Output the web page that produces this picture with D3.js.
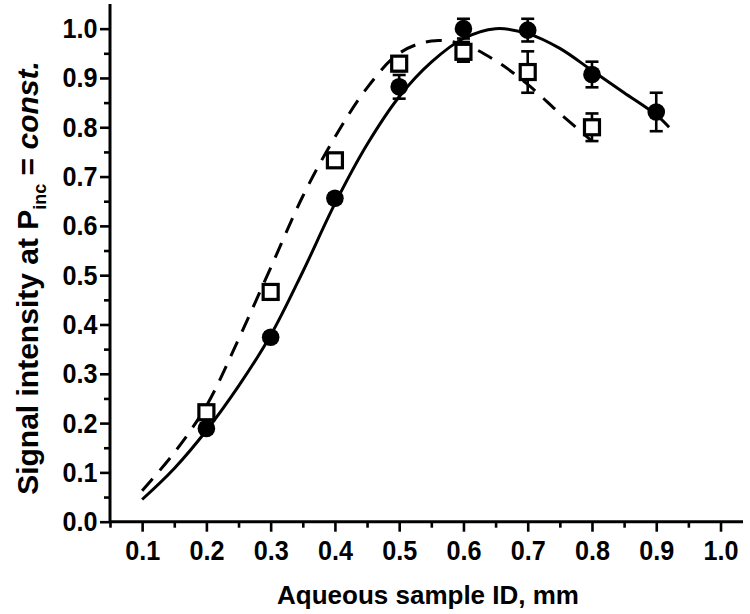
<!DOCTYPE html>
<html><head><meta charset="utf-8">
<script src="https://cdn.jsdelivr.net/npm/d3@7"></script>
<style>body{margin:0;background:#fff}svg{display:block}</style>
</head><body>
<svg id="c" width="750" height="614"></svg>
<script>
const xPts = [0.2,0.3,0.4,0.5,0.6,0.7,0.8,0.9];
const circleVals = [0.189,0.374,0.656,0.882,1.0,0.997,0.907,0.831];
const circleErr  = [0.01,0.01,0.01,0.024,0.02,0.023,0.026,0.039];
const squareX = [0.2,0.3,0.4,0.5,0.6,0.7,0.8];
const squareVals = [0.222,0.466,0.733,0.929,0.953,0.912,0.80];
const squareErr  = [0.01,0.006,0.01,0.015,0.02,0.042,0.028];
const solidX = [0.10,0.15,0.20,0.25,0.30,0.35,0.40,0.45,0.50,0.55,0.60,0.65,0.70,0.75,0.80,0.85,0.90,0.92];
const solidY = [0.045,0.108,0.185,0.275,0.378,0.507,0.645,0.765,0.862,0.932,0.98,1.0,0.99,0.96,0.915,0.87,0.825,0.80];
const dashX = [0.10,0.15,0.20,0.25,0.30,0.35,0.40,0.45,0.50,0.55,0.60,0.65,0.70,0.75,0.80];
const dashY = [0.063,0.14,0.235,0.37,0.515,0.66,0.78,0.88,0.95,0.975,0.968,0.935,0.887,0.828,0.772];
const xTicks = [0.1,0.2,0.3,0.4,0.5,0.6,0.7,0.8,0.9,1.0];
const yTicks = [0.0,0.1,0.2,0.3,0.4,0.5,0.6,0.7,0.8,0.9,1.0];

const svg = d3.select("#c");
const x = d3.scaleLinear().domain([0.05,1.035]).range([110,743]);
const y = d3.scaleLinear().domain([0,1.05]).range([521.7,4]);
const F = "'Liberation Sans', Arial, sans-serif";

// curves
const line = d3.line().x(d=>x(d[0])).y(d=>y(d[1])).curve(d3.curveCatmullRom);
svg.append("path").datum(dashX.map((v,i)=>[v,dashY[i]])).attr("d",line)
  .attr("fill","none").attr("stroke","#000").attr("stroke-width",3).attr("stroke-dasharray","16,11");
svg.append("path").datum(solidX.map((v,i)=>[v,solidY[i]])).attr("d",line)
  .attr("fill","none").attr("stroke","#000").attr("stroke-width",3);

function errBars(xs, vs, es){
  const g = svg.append("g").attr("stroke","#000").attr("stroke-width",2.6);
  xs.forEach((xv,i)=>{
    const cx=x(xv), y1=y(vs[i]+es[i]), y2=y(vs[i]-es[i]);
    g.append("line").attr("x1",cx).attr("x2",cx).attr("y1",y1).attr("y2",y2);
    g.append("line").attr("x1",cx-6.5).attr("x2",cx+6.5).attr("y1",y1).attr("y2",y1);
    g.append("line").attr("x1",cx-6.5).attr("x2",cx+6.5).attr("y1",y2).attr("y2",y2);
  });
}
errBars(xPts, circleVals, circleErr);
errBars(squareX, squareVals, squareErr);

svg.append("g").selectAll("circle").data(xPts).join("circle")
  .attr("cx",d=>x(d)).attr("cy",(d,i)=>y(circleVals[i])).attr("r",8.8).attr("fill","#000");
svg.append("g").selectAll("rect").data(squareX).join("rect")
  .attr("x",d=>x(d)-7.5).attr("y",(d,i)=>y(squareVals[i])-7.5).attr("width",15).attr("height",15)
  .attr("fill","#fff").attr("stroke","#000").attr("stroke-width",3.2);

// axes
const xMinor = d3.range(0.05,1.04,0.1);
const yMinor = d3.range(0.05,1.05,0.1);
const ax = svg.append("g");
ax.append("g").attr("transform","translate(0,521.7)")
  .call(d3.axisBottom(x).tickValues(xMinor).tickSize(6).tickFormat(""))
  .call(g=>g.select(".domain").remove());
const xa = ax.append("g").attr("transform","translate(0,521.7)")
  .call(d3.axisBottom(x).tickValues(xTicks).tickSize(10).tickPadding(8).tickFormat(d3.format(".1f")));
xa.select(".domain").attr("d",`M${x.range()[0]},0H${x.range()[1]}`);
ax.append("g").attr("transform","translate(110,0)")
  .call(d3.axisLeft(y).tickValues(yMinor).tickSize(6).tickFormat(""))
  .call(g=>g.select(".domain").remove());
const ya = ax.append("g").attr("transform","translate(110,0)")
  .call(d3.axisLeft(y).tickValues(yTicks).tickSize(10).tickPadding(4).tickFormat(d3.format(".1f")));
ya.select(".domain").attr("d",`M0,${y.range()[0]}V${y.range()[1]}`);
ax.selectAll(".domain").attr("stroke","#000").attr("stroke-width",3);
ax.selectAll(".tick line").attr("stroke","#000").attr("stroke-width",2.6);
ax.selectAll(".tick text").attr("font-family",F).attr("font-weight","bold").attr("font-size",28)
  .attr("fill","#000").attr("transform","scale(0.9,1)");
xa.selectAll(".tick text").attr("x",0);

svg.append("text").attr("x",428).attr("y",604).attr("text-anchor","middle")
  .attr("font-family",F).attr("font-weight","bold").attr("font-size",26).text("Aqueous sample ID, mm");
const yt = svg.append("text").attr("transform","translate(38,278) rotate(-90)").attr("text-anchor","middle")
  .attr("font-family",F).attr("font-weight","bold").attr("font-size",30);
yt.append("tspan").text("Signal intensity at P");
yt.append("tspan").attr("font-size",18).attr("dy",8).text("inc");
yt.append("tspan").attr("dy",-8).text(" = ");
yt.append("tspan").attr("font-style","italic").text("const.");
</script>
</body></html>
